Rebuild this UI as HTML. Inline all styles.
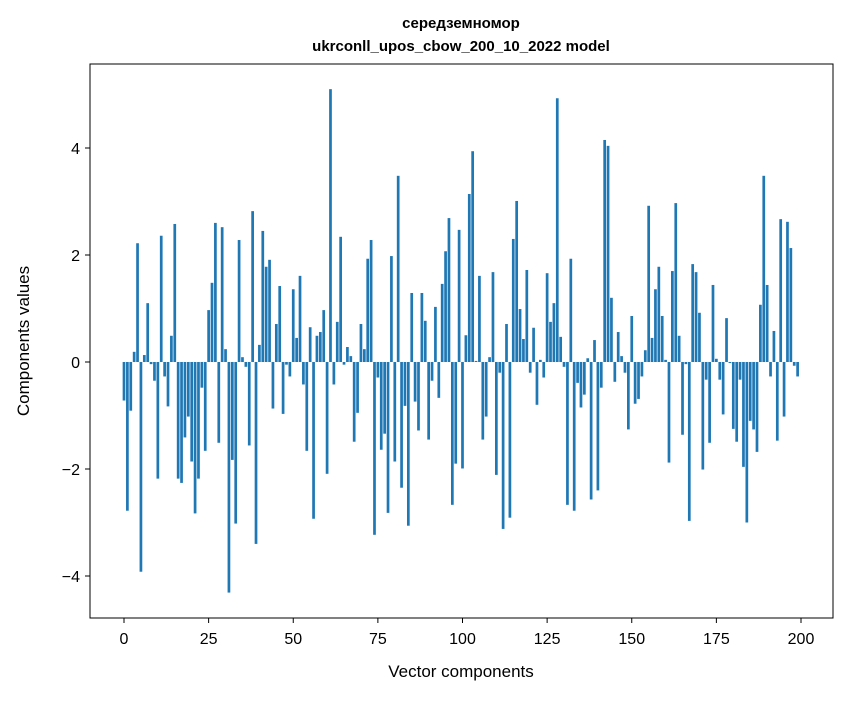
<!DOCTYPE html>
<html><head><meta charset="utf-8"><style>
body{margin:0;background:#fff;font-family:"Liberation Sans","DejaVu Sans",sans-serif}
</style></head><body>
<svg id="chart" width="847" height="696" xmlns="http://www.w3.org/2000/svg">
<rect width="847" height="696" fill="#fff"/>
<text x="461" y="28" text-anchor="middle" font-size="15" font-weight="bold" font-family="Liberation Sans, DejaVu Sans, sans-serif">середземномор</text>
<text x="461" y="51" text-anchor="middle" font-size="15" font-weight="bold" font-family="Liberation Sans, DejaVu Sans, sans-serif">ukrconll_upos_cbow_200_10_2022 model</text>
<g id="bars"></g>
<g id="xticks"></g>
<g id="yticks"></g>
<rect x="90" y="64" width="743" height="554" fill="none" stroke="#000" stroke-width="1"/>
<text x="461" y="677" text-anchor="middle" font-size="17">Vector components</text>
<text transform="translate(29,341) rotate(-90)" text-anchor="middle" font-size="17">Components values</text>
</svg>
<script>
const values = [
-0.72,-2.78,-0.91,0.19,2.22,-3.92,0.13,1.10,-0.04,-0.35,
-2.18,2.36,-0.27,-0.83,0.49,2.58,-2.18,-2.26,-1.41,-1.02,
-1.86,-2.83,-2.18,-0.48,-1.66,0.97,1.48,2.60,-1.51,2.52,
0.24,-4.31,-1.83,-3.02,2.28,0.09,-0.09,-1.56,2.82,-3.40,
0.32,2.45,1.78,1.91,-0.87,0.71,1.42,-0.97,-0.05,-0.27,
1.36,0.45,1.61,-0.42,-1.66,0.65,-2.93,0.49,0.56,0.97,
-2.09,5.10,-0.42,0.75,2.34,-0.05,0.28,0.11,-1.49,-0.95,
0.71,0.24,1.93,2.28,-3.23,-0.29,-1.64,-1.34,-2.82,1.98,
-1.86,3.48,-2.35,-0.82,-3.06,1.29,-0.74,-1.28,1.29,0.77,
-1.45,-0.35,1.03,-0.67,1.46,2.07,2.69,-2.67,-1.90,2.47,
-1.99,0.50,3.14,3.94,0.02,1.61,-1.45,-1.02,0.09,1.68,
-2.11,-0.20,-3.12,0.71,-2.91,2.30,3.01,0.99,0.43,1.72,
-0.20,0.64,-0.80,0.04,-0.29,1.66,0.75,1.10,4.93,0.47,
-0.09,-2.67,1.93,-2.78,-0.39,-0.85,-0.61,0.07,-2.57,0.41,
-2.40,-0.48,4.15,4.04,1.20,-0.37,0.56,0.11,-0.20,-1.26,
0.86,-0.78,-0.69,-0.27,0.22,2.92,0.45,1.36,1.78,0.86,
0.04,-1.88,1.70,2.97,0.49,-1.36,-0.04,-2.97,1.83,1.68,
0.92,-2.01,-0.33,-1.51,1.44,0.06,-0.33,-0.98,0.82,-0.02,
-1.25,-1.49,-0.33,-1.96,-3.00,-1.10,-1.26,-1.68,1.07,3.48,
1.44,-0.27,0.58,-1.47,2.67,-1.02,2.62,2.13,-0.07,-0.27];
const xTickLabels = [0,25,50,75,100,125,150,175,200];
const yTickLabels = [-4,-2,0,2,4];

const NS="http://www.w3.org/2000/svg";
function xScale(v){return 124 + v*3.385;}
function yScale(v){return 362 - v*53.5;}
const bars=document.getElementById('bars');
values.forEach((v,i)=>{
  const r=document.createElementNS(NS,'rect');
  
  
  const w=0.8*3.385;
  r.setAttribute('x',xScale(i)-w/2);
  r.setAttribute('width',w);
  const y0=yScale(0), y1=yScale(v);
  r.setAttribute('y',Math.min(y0,y1));
  r.setAttribute('height',Math.abs(y1-y0));
  r.setAttribute('fill','#1f77b4');
  bars.appendChild(r);
});
const xt=document.getElementById('xticks');
xTickLabels.forEach(t=>{
  const x=xScale(t);
  const l=document.createElementNS(NS,'line');
  
  
  l.setAttribute('x1',x);l.setAttribute('x2',x);l.setAttribute('y1',618);l.setAttribute('y2',623);
  l.setAttribute('stroke','#000');
  xt.appendChild(l);
  const s=document.createElementNS(NS,'text');
  
  
  s.setAttribute('x',x);s.setAttribute('y',644);s.setAttribute('text-anchor','middle');s.setAttribute('font-size','16');
  s.textContent=t;
  xt.appendChild(s);
});
const yt=document.getElementById('yticks');
yTickLabels.forEach(t=>{
  const y=yScale(t);
  const l=document.createElementNS(NS,'line');
  
  
  l.setAttribute('x1',85);l.setAttribute('x2',90);l.setAttribute('y1',y);l.setAttribute('y2',y);
  l.setAttribute('stroke','#000');
  yt.appendChild(l);
  const s=document.createElementNS(NS,'text');
  
  
  s.setAttribute('x',80);s.setAttribute('y',y+6);s.setAttribute('text-anchor','end');s.setAttribute('font-size','16');
  s.textContent=t<0?'\u2212'+Math.abs(t):t;
  yt.appendChild(s);
});
</script>
</body></html>
